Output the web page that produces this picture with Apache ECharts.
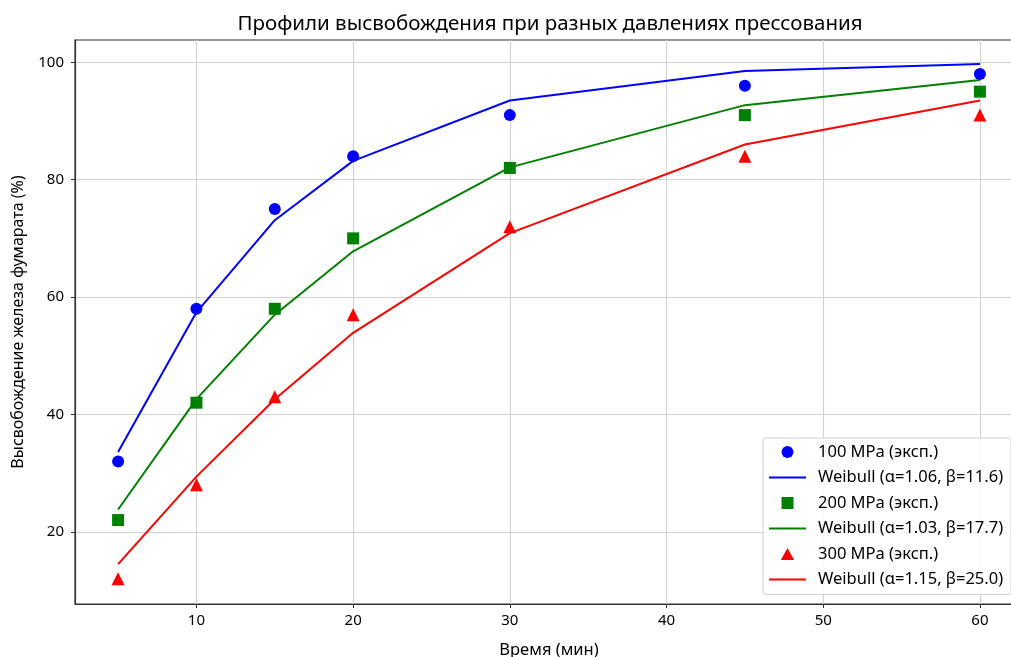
<!DOCTYPE html>
<html><head><meta charset="utf-8">
<script src="https://cdn.jsdelivr.net/npm/echarts@6/dist/echarts.min.js"></script>
<style>html,body{margin:0;padding:0;background:#fff}#c{width:1011px;height:657px}</style>
</head><body><div id="c"></div>
<script>
const times = [5, 10, 15, 20, 30, 45, 60];
const exp100 = [32, 58, 75, 84, 91, 96, 98];
const fit100 = [33.6, 57.4, 73.1, 83.2, 93.5, 98.5, 99.7];
const exp200 = [22, 42, 58, 70, 82, 91, 95];
const fit200 = [23.8, 42.6, 57.0, 67.8, 82.1, 92.7, 97.0];
const exp300 = [12, 28, 43, 57, 72, 84, 91];
const fit300 = [14.5, 29.4, 42.6, 53.9, 70.9, 86.0, 93.5];
const xTicks = [10, 20, 30, 40, 50, 60];
const yTicks = [20, 40, 60, 80, 100];
const names = ['100 MPa (эксп.)', 'Weibull (α=1.06, β=11.6)', '200 MPa (эксп.)', 'Weibull (α=1.03, β=17.7)', '300 MPa (эксп.)', 'Weibull (α=1.15, β=25.0)'];

const pair = (ys) => times.map((t, i) => [t, ys[i]]);
const FONT = 'Noto Sans';
const chart = echarts.init(document.getElementById('c'), null, {renderer: 'canvas'});

function scat(name, data, color, symbol, size) {
  return {type: 'scatter', name, data: pair(data), symbol, symbolSize: size,
    itemStyle: {color, opacity: 1}, z: 4};
}
function line(name, data, color) {
  return {type: 'line', name, data: pair(data), symbol: 'none', showSymbol: false,
    lineStyle: {color, width: 2}, itemStyle: {color}, z: 3};
}
const ICON_LINE = 'path://M0,0 H37 V2 H0 Z';
const ICON_SQ = 'path://M0,0 H10 V10 H0 Z';
const ICON_TRI = 'path://M5,0 L10,9 L0,9 Z';

chart.setOption({
  animation: false,
  backgroundColor: '#fff',
  title: {text: 'Профили высвобождения при разных давлениях прессования', left: 545, top: 9,
    textAlign: 'center',
    textStyle: {fontFamily: FONT, fontSize: 20.5, fontWeight: 'normal', color: '#000'}},
  grid: {left: 75, top: 40, width: 948, height: 564, show: true, outerBoundsMode: 'none',
    containLabel: false,
    borderColor: '#333', borderWidth: 1.2, backgroundColor: 'transparent'},
  xAxis: {type: 'value', min: 2.25, max: 62.75,
    name: 'Время (мин)', nameLocation: 'middle', nameGap: 38,
    nameTextStyle: {fontFamily: FONT, fontSize: 16.5, color: '#000'},
    axisLine: {show: true, onZero: false, lineStyle: {color: '#333', width: 1.2}},
    axisTick: {show: true, length: 4, customValues: xTicks, lineStyle: {color: '#333'}},
    axisLabel: {customValues: xTicks, fontFamily: FONT, fontSize: 15, color: '#000', margin: 9},
    splitLine: {show: true, lineStyle: {color: '#d3d3d3', width: 1.2}}},
  yAxis: {type: 'value', min: 7.7, max: 103.8,
    name: 'Высвобождение железа фумарата (%)', nameLocation: 'middle', nameGap: 49,
    nameTextStyle: {fontFamily: FONT, fontSize: 16, color: '#000'},
    axisLine: {show: true, onZero: false, lineStyle: {color: '#333', width: 1.2}},
    axisTick: {show: true, length: 4, customValues: yTicks, lineStyle: {color: '#333'}},
    axisLabel: {customValues: yTicks, fontFamily: FONT, fontSize: 15, color: '#000', margin: 11},
    splitLine: {show: true, lineStyle: {color: '#d3d3d3', width: 1.2}}},
  legend: {orient: 'vertical', left: 763, top: 438, padding: [5, 8, 6, 6],
    itemWidth: 37, itemHeight: 12, itemGap: 7.5, symbolKeepAspect: true,
    backgroundColor: 'rgba(255,255,255,0.85)', borderColor: '#d0d0d0', borderWidth: 1, borderRadius: 3,
    textStyle: {fontFamily: FONT, fontSize: 16.5, lineHeight: 18, color: '#000', padding: [0, 0, 0, 7]},
    data: [
      {name: names[0], icon: 'circle'},
      {name: names[1], icon: ICON_LINE},
      {name: names[2], icon: ICON_SQ},
      {name: names[3], icon: ICON_LINE},
      {name: names[4], icon: ICON_TRI},
      {name: names[5], icon: ICON_LINE}
    ]},
  series: [
    scat(names[0], exp100, '#0000ff', 'circle', 12),
    line(names[1], fit100, '#0000ff'),
    scat(names[2], exp200, '#008000', 'rect', 12),
    line(names[3], fit200, '#008000'),
    scat(names[4], exp300, '#ff0000', 'triangle', 13),
    line(names[5], fit300, '#ff0000')
  ]
});
</script></body></html>
